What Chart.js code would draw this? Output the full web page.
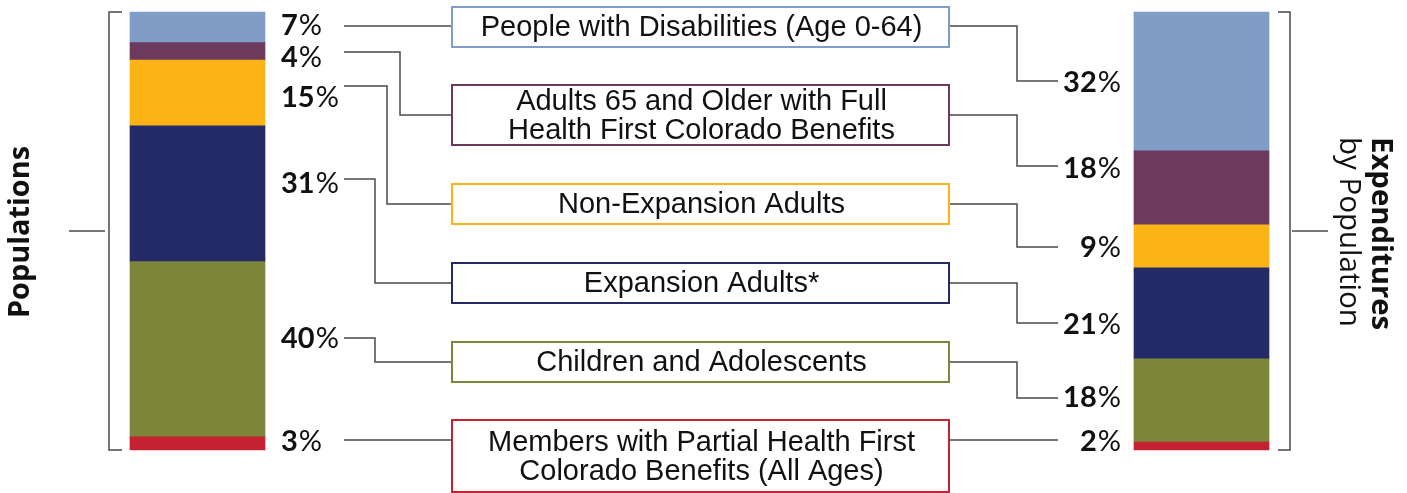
<!DOCTYPE html>
<html>
<head>
<meta charset="utf-8">
<script src="https://cdn.jsdelivr.net/npm/chart.js@4.4.1/dist/chart.umd.min.js"></script>
<style>
    html, body { margin: 0; padding: 0; background: #fff; }
    #wrap { position: relative; width: 1407px; height: 493px; }
</style>
</head>
<body>
<div id="wrap"><canvas id="fundChart" width="1407" height="493"></canvas></div>
<script>
// Data (top of the stack first)
const groups = ['Populations', 'Expenditures by Population'];
const categories = [
    'People with Disabilities (Age 0-64)',
    'Adults 65 and Older with Full Health First Colorado Benefits',
    'Non-Expansion Adults',
    'Expansion Adults*',
    'Children and Adolescents',
    'Members with Partial Health First Colorado Benefits (All Ages)'
];
const boxText = [
    ['People with Disabilities (Age 0-64)'],
    ['Adults 65 and Older with Full', 'Health First Colorado Benefits'],
    ['Non-Expansion Adults'],
    ['Expansion Adults*'],
    ['Children and Adolescents'],
    ['Members with Partial Health First', 'Colorado Benefits (All Ages)']
];
const popValues = [7, 4, 15, 31, 40, 3];
const expValues = [31.7, 16.9, 9.8, 20.8, 19.0, 1.8];
const popLabels = ['7', '4', '15', '31', '40', '3'];
const expLabels = ['32', '18', '9', '21', '18', '2'];
const colors = ['#7f9dc5', '#6c3a5d', '#fcb316', '#242a66', '#7c853a', '#c42131'];

// Layout of the callouts (pixels)
const boxLeft = 452, boxRight = 949;
const boxTop = [7, 85, 184, 263, 342, 420];
const boxBottom = [47, 145, 224, 303, 382, 492];
const boxLinkY = [26, 115, 204, 283, 362, 440];
const popBase = [35, 67, 107, 193, 348, 451];
const popLinkY = [26, 52, 86, 179, 338, 440];
const popElbowX = [0, 400, 387, 375, 375, 0];
const expBase = [92, 178, 257, 334, 407, 451];
const expLinkY = [81, 166, 247, 323, 398, 440];

const LINE = '#4a4a4a';

function hline(ctx, x1, x2, y) {
    ctx.beginPath(); ctx.moveTo(x1, y); ctx.lineTo(x2, y); ctx.stroke();
}

function pct(ctx, num, x, y, align) {
    ctx.textBaseline = 'alphabetic';
    ctx.textAlign = 'left';
    ctx.font = 'bold 29px Lato';
    const w1 = ctx.measureText(num).width;
    ctx.font = '29px Lato';
    const w2 = ctx.measureText('%').width;
    const start = align === 'right' ? x - w1 - w2 : x;
    ctx.fillStyle = '#111';
    ctx.font = 'bold 29px Lato';
    ctx.fillText(num, start, y);
    ctx.font = '29px Lato';
    ctx.fillText('%', start + w1 + 1, y);
}

// pick a font size so the text spans a given length
function fitFont(ctx, text, weight, family, target) {
    ctx.font = weight + ' 20px ' + family;
    const s = 20 * target / ctx.measureText(text).width;
    return weight + ' ' + s.toFixed(1) + 'px ' + family;
}

const calloutPlugin = {
    id: 'callouts',
    afterDraw(chart) {
        const ctx = chart.ctx;
        const top = chart.chartArea.top, bottom = chart.chartArea.bottom;
        ctx.save();
        ctx.strokeStyle = LINE;
        ctx.lineWidth = 1.5;

        // brackets
        ctx.beginPath();
        ctx.moveTo(122, top); ctx.lineTo(109, top); ctx.lineTo(109, bottom); ctx.lineTo(122, bottom);
        ctx.stroke();
        hline(ctx, 69, 105, 231);
        ctx.beginPath();
        ctx.moveTo(1278, top); ctx.lineTo(1290, top); ctx.lineTo(1290, bottom); ctx.lineTo(1278, bottom);
        ctx.stroke();
        hline(ctx, 1292, 1328, 231);

        // connectors
        categories.forEach((c, i) => {
            ctx.beginPath();
            ctx.moveTo(344, popLinkY[i]);
            if (popElbowX[i]) {
                ctx.lineTo(popElbowX[i], popLinkY[i]);
                ctx.lineTo(popElbowX[i], boxLinkY[i]);
            }
            ctx.lineTo(boxLeft, boxLinkY[i]);
            ctx.stroke();

            ctx.beginPath();
            ctx.moveTo(boxRight, boxLinkY[i]);
            if (expLinkY[i] !== boxLinkY[i]) {
                ctx.lineTo(1017, boxLinkY[i]);
                ctx.lineTo(1017, expLinkY[i]);
            }
            ctx.lineTo(1058, expLinkY[i]);
            ctx.stroke();
        });

        // boxes
        categories.forEach((c, i) => {
            ctx.fillStyle = '#fff';
            ctx.fillRect(boxLeft, boxTop[i], boxRight - boxLeft, boxBottom[i] - boxTop[i]);
            ctx.strokeStyle = colors[i];
            ctx.lineWidth = 2;
            ctx.strokeRect(boxLeft, boxTop[i], boxRight - boxLeft, boxBottom[i] - boxTop[i]);
            ctx.fillStyle = '#111';
            ctx.font = '29px "Liberation Sans"';
            ctx.textAlign = 'center';
            ctx.textBaseline = 'middle';
            const lines = boxText[i];
            const mid = (boxTop[i] + boxBottom[i]) / 2 + 1;
            const lh = 29;
            lines.forEach((t, k) => {
                ctx.fillText(t, (boxLeft + boxRight) / 2 + 1, mid + (k - (lines.length - 1) / 2) * lh);
            });
        });

        // percentages
        popLabels.forEach((p, i) => pct(ctx, p, 281, popBase[i], 'left'));
        expLabels.forEach((p, i) => pct(ctx, p, 1120, expBase[i], 'right'));

        // side titles
        ctx.fillStyle = '#111';
        ctx.textBaseline = 'middle';
        ctx.save();
        ctx.translate(21, 232);
        ctx.rotate(-Math.PI / 2);
        ctx.textAlign = 'center';
        ctx.font = fitFont(ctx, 'Populations', 'bold', '"Open Sans"', 172);
        ctx.fillText('Populations', 0, 0);
        ctx.restore();

        ctx.save();
        ctx.translate(1380, 137);
        ctx.rotate(Math.PI / 2);
        ctx.textAlign = 'left';
        ctx.font = fitFont(ctx, 'Expenditures', 'bold', '"Open Sans"', 193);
        ctx.fillText('Expenditures', 0, 0);
        ctx.restore();
        ctx.save();
        ctx.translate(1348, 137);
        ctx.rotate(Math.PI / 2);
        ctx.textAlign = 'left';
        ctx.font = fitFont(ctx, 'by Population', 'normal', '"Open Sans"', 190);
        ctx.fillText('by Population', 0, 0);
        ctx.restore();

        ctx.restore();
    }
};

// stacks build from the bottom, so reverse the order
const datasets = categories.map((c, i) => ({
    label: c,
    data: [popValues[i], expValues[i]],
    backgroundColor: colors[i],
    barThickness: 135,
    clip: false
})).reverse();

new Chart(document.getElementById('fundChart'), {
    type: 'bar',
    data: { labels: groups, datasets: datasets },
    options: {
        responsive: false,
        animation: false,
        layout: { padding: { left: 197.5, right: 205.5, top: 12, bottom: 43 } },
        plugins: { legend: { display: false }, tooltip: { enabled: false } },
        scales: {
            x: { display: false, stacked: true, offset: false },
            y: { display: false, stacked: true, min: 0, max: 100 }
        }
    },
    plugins: [calloutPlugin]
});
</script>
</body>
</html>
